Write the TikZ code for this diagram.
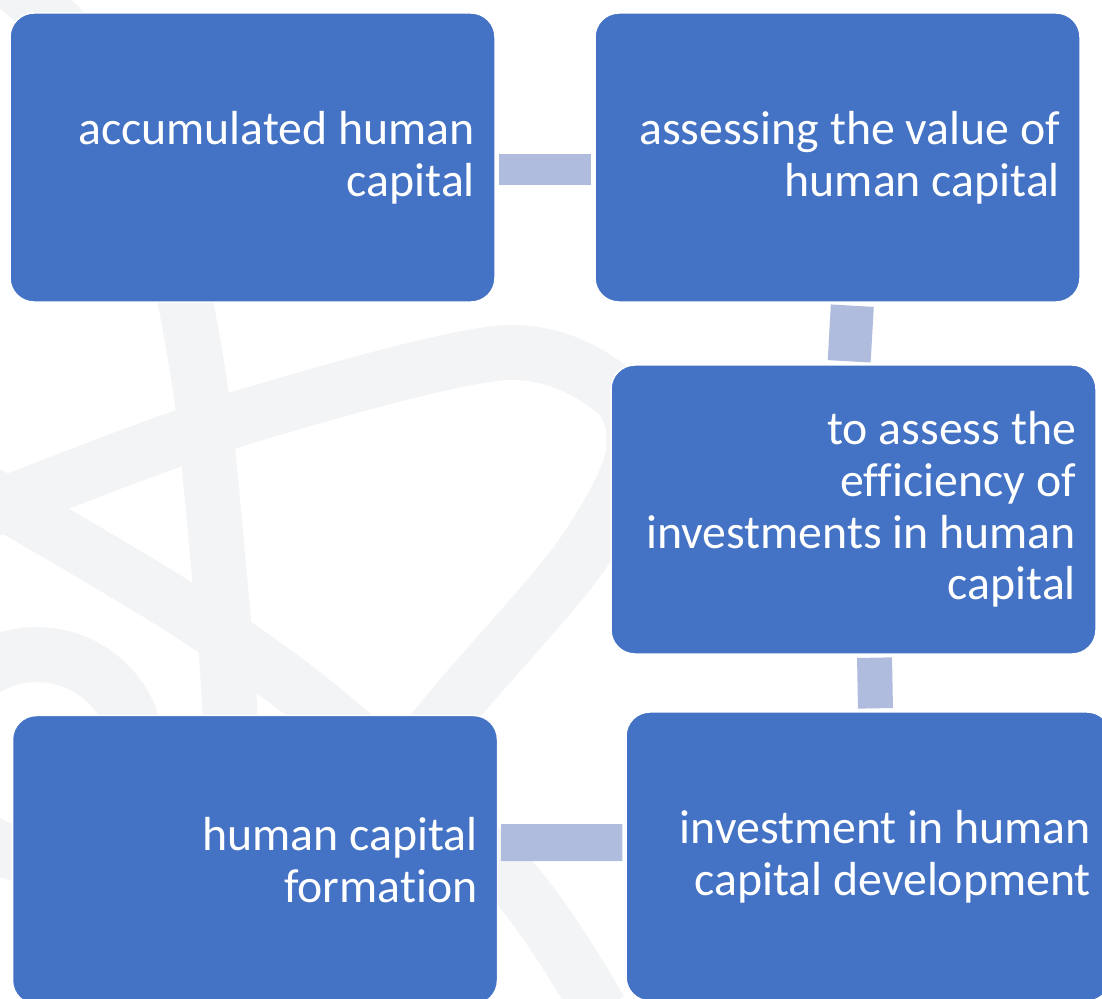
\documentclass[tikz,border=0pt]{standalone}
\usepackage{fontspec}
\setmainfont{Carlito}[Ligatures=NoCommon]
\definecolor{boxblue}{RGB}{68,114,196}
\definecolor{linkblue}{RGB}{175,188,221}
\definecolor{wmgray}{RGB}{243,244,246}
\begin{document}
\begin{tikzpicture}[x=0.02cm,y=-0.02cm,
    box/.style={rectangle, rounded corners=0.48cm, fill=boxblue, draw=white, line width=0.8pt,
        minimum height=5.78cm, text width=8.9cm, inner xsep=0.4cm, inner ysep=0pt,
        align=flush right, text=white, font=\fontsize{27.2pt}{29.5pt}\selectfont},
    link/.style={draw=linkblue, shorten <=0.06cm, shorten >=0.06cm},
    watermark/.style={draw=wmgray, line width=1.1cm}]
    \useasboundingbox (0,0) rectangle (1102,999);
    % faint background bands
    \draw[watermark] plot[smooth] coordinates {(10,-20) (90,60) (160,180) (186,305) (203,408) (218,560) (230,713) (240,1010)};
    \draw[watermark] plot[smooth] coordinates {(-60,530) (212,427) (500,353) (615,392) (632,460) (576,563) (446,715) (300,900)};
    \draw[watermark] plot[smooth] coordinates {(-40,478) (80,547) (201,621) (327,713) (512,880) (600,1010)};
    \draw[watermark] (37,755) circle (2.01cm);

    \node[box] (accum) at (252.5,157.5) {accumulated human\\capital};
    \node[box] (assess) at (837.5,157.5) {assessing the value of\\human capital};
    \node[box] (effic) at (853.5,509.5) {to assess the\\efficiency of\\investments in human\\capital};
    \node[box] (invest) at (868.5,856.5) {investment in human\\capital development};
    \node[box] (form) at (255,860) {human capital\\formation};

    \draw[link, line width=0.62cm] ([yshift=-0.24cm]accum.east) -- ([yshift=-0.24cm]assess.west);
    \draw[link, line width=0.86cm] ([xshift=0.3cm]assess.south) -- ([xshift=-0.09cm]effic.north);
    \draw[link, line width=0.7cm] ([xshift=0.42cm]effic.south) -- ([xshift=0.14cm]invest.north);
    \draw[link, line width=0.74cm] ([yshift=0.28cm]invest.west) -- ([yshift=0.35cm]form.east);
\end{tikzpicture}
\end{document}
